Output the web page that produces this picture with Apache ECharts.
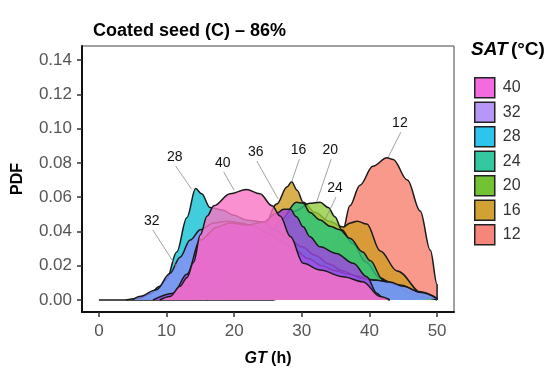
<!DOCTYPE html>
<html>
<head>
<meta charset="utf-8">
<script src="https://cdn.jsdelivr.net/npm/echarts@6/dist/echarts.min.js"></script>
<style>
  html, body { margin: 0; padding: 0; background: #fff; }
  #chart { width: 560px; height: 368px; }
</style>
</head>
<body>
<div id="chart"></div>
<script>
// density curves, [GT (h), PDF]
const sat12 = [[0, 0], [25.7, 0], [28, 0.004], [30, 0.011], [33, 0.024], [35, 0.034], [36.1, 0.041], [37.1, 0.055], [38.6, 0.067], [40.5, 0.078], [42.6, 0.083], [43.5, 0.082], [45.6, 0.070], [47.5, 0.052], [49, 0.029], [50, 0.009], [50, 0]]
const sat16 = [[14, 0], [18, 0.01], [21, 0.022], [24, 0.038], [26.3, 0.056], [27.8, 0.066], [28.5, 0.069], [29.3, 0.064], [30.2, 0.057], [32, 0.051], [34, 0.046], [36.1, 0.0426], [37.2, 0.045], [38.2, 0.046], [39.6, 0.0443], [41.6, 0.0286], [44.1, 0.0169], [47.9, 0.0035], [50, 0.0006]]
const sat20 = [[16, 0], [20, 0.01], [24, 0.028], [27, 0.044], [29, 0.052], [31.2, 0.0564], [32.7, 0.057], [33.9, 0.054], [34.9, 0.0486], [35.9, 0.041], [37.5, 0.033], [39.5, 0.022], [41.5, 0.013], [44, 0.007], [47, 0.002], [50, 0.0003]]
const sat24 = [[16, 0], [20, 0.012], [24, 0.03], [27, 0.047], [29.2, 0.057], [30.2, 0.0565], [31.2, 0.051], [32.7, 0.0467], [34.2, 0.043], [35.6, 0.041], [37.1, 0.036], [39, 0.028], [40.1, 0.023], [42, 0.0117], [44, 0.008], [46, 0.004], [48, 0.0015], [50, 0.0002]]
const sat28 = [[4, 0], [6, 0.001], [7.5, 0.0035], [9, 0.008], [10, 0.012], [11.5, 0.028], [13, 0.048], [14.3, 0.065], [15.2, 0.062], [16.4, 0.054], [18.3, 0.0525], [19.8, 0.0496], [21.9, 0.0466], [24.3, 0.0455], [26, 0.041], [28, 0.036], [30, 0.031], [32, 0.026], [34, 0.021], [36, 0.017], [38, 0.014], [40, 0.012], [42, 0.0112], [44.5, 0.0087], [47.5, 0.0048], [50, 0.001]]
const sat32 = [[5, 0], [6, 0.002], [8.5, 0.006], [10.5, 0.0155], [12, 0.025], [13.5, 0.035], [15, 0.041], [17, 0.045], [19, 0.046], [21, 0.045], [23, 0.043], [25, 0.039], [27, 0.034], [29, 0.029], [31, 0.024], [33, 0.02], [35, 0.017], [37, 0.015], [39, 0.0125], [41, 0.0115], [43, 0.0105], [45, 0.008], [47.5, 0.0045], [50, 0.0008]]
const sat36 = [[8, 0], [11, 0.004], [13, 0.015], [15, 0.035], [17.5, 0.0426], [19.4, 0.045], [21.9, 0.0437], [24.3, 0.0455], [26.3, 0.0507], [27.3, 0.0529], [28.3, 0.0529], [29.2, 0.0486], [30.2, 0.0427], [31.2, 0.0369], [32.7, 0.031], [35.1, 0.0272], [37.6, 0.0214], [39.6, 0.0136], [41.1, 0.004], [42, 0.001], [43, 0]]
const sat40 = [[9, 0], [10.5, 0.002], [12, 0.008], [13, 0.013], [14, 0.022], [15, 0.038], [16, 0.049], [17, 0.055], [19.4, 0.062], [21.8, 0.0645], [23.8, 0.062], [25.6, 0.055], [26.8, 0.049], [28.3, 0.037], [30.2, 0.0214], [32.7, 0.0175], [36.1, 0.0136], [39, 0.0107], [41.6, 0.002], [43, 0]]

const satLevels = ['12', '16', '20', '24', '28', '32', '36', '40']
const satCurves = [sat12, sat16, sat20, sat24, sat28, sat32, sat36, sat40]
const fillColors = ['#F7806F', '#D09C22', '#92CD3E', '#2CC27C', '#12C0D2', '#8A8DF6', '#A044E4', '#FA74C4']
const legendLevels = ['40', '32', '28', '24', '20', '16', '12']
const legendColors = ['#F36BDF', '#B697F8', '#2DC4EE', '#33C9A0', '#73C234', '#D1A233', '#F6857C']

const xTicks = [0, 10, 20, 30, 40, 50]
const yTicks = [0, 0.02, 0.04, 0.06, 0.08, 0.10, 0.12, 0.14]

// curve labels: [text x, text y, point x, point y]
const noteText = ['28', '40', '36', '32', '16', '20', '24', '12']
const notePos = [
  [11.2, 0.0834, 13.7, 0.0647],
  [18.3, 0.0800, 20.0, 0.0640],
  [23.2, 0.0863, 26.5, 0.0590],
  [7.8, 0.0462, 11.5, 0.0192],
  [29.5, 0.0875, 28.5, 0.0690],
  [34.2, 0.0875, 32.2, 0.0573],
  [34.9, 0.0653, 33.4, 0.0466],
  [44.5, 0.1032, 42.8, 0.0836]
]

const FONT = 'Liberation Sans, Arial, sans-serif'
const chart = echarts.init(document.getElementById('chart'), null, { renderer: 'canvas' })

// each curve on its own z so later fills cover earlier outlines
const densitySeries = satLevels.map((lvl, i) => ({
  name: lvl,
  type: 'line',
  z: 2 + i,
  data: satCurves[i],
  smooth: 0.35,
  smoothMonotone: 'x',
  showSymbol: false,
  symbol: 'none',
  lineStyle: { color: '#1a1a1a', width: 1.5 },
  itemStyle: { color: fillColors[i] },
  areaStyle: { color: fillColors[i], opacity: 0.8 },
  emphasis: { disabled: true },
  silent: true
}))

chart.setOption({
  animation: false,
  title: {
    text: 'Coated seed (C) – 86%',
    left: 88,
    top: 17,
    textStyle: { fontFamily: FONT, fontSize: 18, fontWeight: 'bold', color: '#000' }
  },
  grid: {
    left: 82, right: 106, top: 46, bottom: 56,
    outerBoundsMode: 'none',
    show: true, borderColor: '#444', borderWidth: 1
  },
  legend: {
    orient: 'vertical',
    left: 469,
    top: 72,
    itemWidth: 20,
    itemHeight: 20,
    itemGap: 3,
    icon: 'rect',
    selectedMode: false,
    textStyle: { fontFamily: FONT, fontSize: 16, color: '#333', padding: [0, 0, 0, 3] },
    data: legendLevels.map((lvl, i) => ({
      name: lvl,
      itemStyle: { color: legendColors[i], borderColor: '#222', borderWidth: 1.5, opacity: 1 }
    }))
  },
  graphic: [{
    type: 'text',
    left: 471,
    top: 40,
    style: {
      text: '{i|SAT} {n|(°C)}',
      rich: {
        i: { fontFamily: FONT, fontSize: 19, fontWeight: 'bold', fontStyle: 'italic', fill: '#000' },
        n: { fontFamily: FONT, fontSize: 19, fontWeight: 'bold', fill: '#000' }
      }
    }
  }],
  xAxis: {
    type: 'value',
    min: -2.5,
    max: 52.5,
    name: '{i|GT} (h)',
    nameLocation: 'middle',
    nameGap: 39,
    nameTextStyle: {
      fontFamily: FONT, fontSize: 16, fontWeight: 'bold', color: '#000',
      rich: { i: { fontFamily: FONT, fontSize: 16, fontWeight: 'bold', fontStyle: 'italic', color: '#000' } }
    },
    axisLine: { show: true, onZero: false, lineStyle: { color: '#111', width: 2 } },
    axisTick: { show: true, length: 5, customValues: xTicks, lineStyle: { color: '#333', width: 1.5 } },
    axisLabel: { customValues: xTicks, margin: 11, fontFamily: FONT, fontSize: 17, color: '#555' },
    splitLine: { show: false }
  },
  yAxis: {
    type: 'value',
    min: -0.007,
    max: 0.1482,
    name: 'PDF',
    nameLocation: 'middle',
    nameGap: 56,
    nameTextStyle: { fontFamily: FONT, fontSize: 16, fontWeight: 'bold', color: '#000' },
    axisLine: { show: true, onZero: false, lineStyle: { color: '#111', width: 2 } },
    axisTick: { show: true, length: 5, customValues: yTicks, lineStyle: { color: '#333', width: 1.5 } },
    axisLabel: {
      customValues: yTicks, margin: 10, fontFamily: FONT, fontSize: 17, color: '#555',
      formatter: v => v.toFixed(2)
    },
    splitLine: { show: false }
  },
  series: densitySeries.concat([{
    type: 'custom',
    name: 'notes',
    silent: true,
    z: 20,
    data: notePos,
    renderItem: (params, api) => {
      const t = api.coord([api.value(0), api.value(1)])
      const p = api.coord([api.value(2), api.value(3)])
      return {
        type: 'group',
        children: [{
          type: 'line',
          shape: { x1: t[0] + 1, y1: t[1] + 9, x2: p[0], y2: p[1] },
          style: { stroke: '#8a8a8a', lineWidth: 0.8 }
        }, {
          type: 'text',
          style: {
            text: noteText[params.dataIndex],
            x: t[0], y: t[1],
            align: 'center', verticalAlign: 'middle',
            fontFamily: FONT, fontSize: 14, fill: '#111'
          }
        }]
      }
    }
  }])
})
</script>
</body>
</html>
